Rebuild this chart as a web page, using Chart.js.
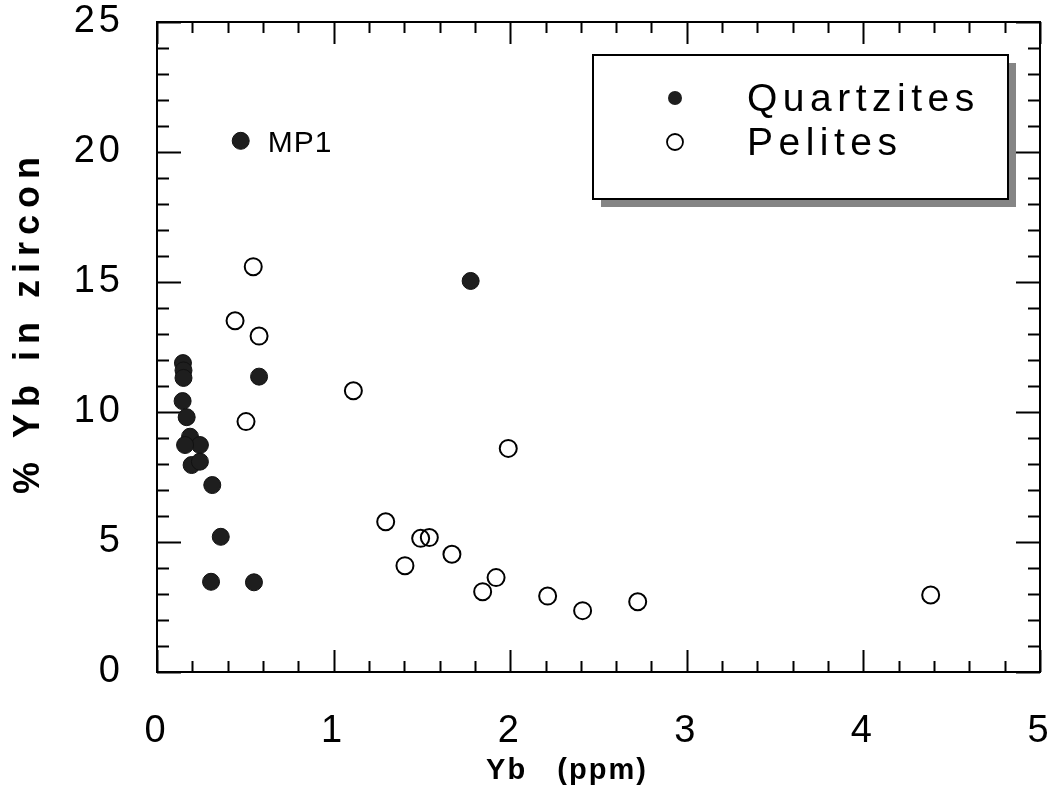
<!DOCTYPE html>
<html>
<head>
<meta charset="utf-8">
<title>Yb in zircon</title>
<script src="https://cdn.jsdelivr.net/npm/chart.js@4.4.1/dist/chart.umd.min.js"></script>
<style>
  html, body { margin: 0; padding: 0; background: #fff; }
  canvas { display: block; }
</style>
</head>
<body>
<canvas id="chart" width="1056" height="801"></canvas>
<script>
// Whole-rock Yb (ppm) against the share of Yb held in zircon
const quartziteYb  = [0.474, 1.776, 0.147, 0.150, 0.150, 0.578, 0.145, 0.168, 0.187, 0.243, 0.159, 0.196, 0.243, 0.313, 0.361, 0.306, 0.549];
const quartziteZrc = [20.43, 15.04, 11.88, 11.60, 11.31, 11.36, 10.42,  9.80,  9.05,  8.73,  8.73,  7.96,  8.09,  7.19,  5.20,  3.47,  3.45];

const peliteYb  = [0.545, 0.442, 0.578, 0.504, 1.112, 1.989, 1.295, 1.493, 1.542, 1.670, 1.404, 1.920, 1.844, 2.212, 2.410, 2.722, 4.381];
const peliteZrc = [15.59, 13.51, 12.92,  9.63, 10.82,  8.60,  5.78,  5.14,  5.17,  4.53,  4.09,  3.63,  3.09,  2.92,  2.36,  2.70,  2.96];

const xTicks = [0, 1, 2, 3, 4, 5];
const yTicks = [0, 5, 10, 15, 20, 25];

const seriesNames = ['Quartzites', 'Pelites'];
const labelledSample = { name: 'MP1', index: 0 };

const FONT = '"Liberation Sans", Arial, Helvetica, sans-serif';

function toPoints(xs, ys) {
  return xs.map((x, i) => ({ x: x, y: ys[i] }));
}

// frame with inward tick marks on all four sides
const frameTicks = {
  id: 'frameTicks',
  beforeDatasetsDraw(chart) {
    const ctx = chart.ctx;
    const a = chart.chartArea;
    const xs = chart.scales.x, ys = chart.scales.y;
    ctx.save();
    ctx.strokeStyle = '#000';
    ctx.lineWidth = 2;
    ctx.strokeRect(a.left, a.top, a.right - a.left, a.bottom - a.top);
    ctx.beginPath();
    for (let i = 0; i <= 25; i++) {
      const v = i / 5;
      const px = Math.round(xs.getPixelForValue(v)) + 0.5;
      const len = (i % 5 === 0) ? 22 : 11;
      ctx.moveTo(px, a.bottom); ctx.lineTo(px, a.bottom - len);
      ctx.moveTo(px, a.top);    ctx.lineTo(px, a.top + len);
    }
    for (let v = 0; v <= 25; v++) {
      const py = Math.round(ys.getPixelForValue(v)) + 0.5;
      const len = (v % 5 === 0) ? 24 : 12;
      ctx.moveTo(a.left, py);  ctx.lineTo(a.left + len, py);
      ctx.moveTo(a.right, py); ctx.lineTo(a.right - len, py);
    }
    ctx.stroke();
    ctx.restore();
  }
};

// axis titles, the MP1 tag and the boxed legend
const annotations = {
  id: 'annotations',
  afterDraw(chart) {
    const ctx = chart.ctx;
    const xs = chart.scales.x, ys = chart.scales.y;
    const qs = chart.data.datasets[0], ps = chart.data.datasets[1];
    ctx.save();
    ctx.fillStyle = '#000';

    // axis titles
    ctx.letterSpacing = '2px';
    ctx.font = 'bold 29px ' + FONT;
    ctx.textAlign = 'center';
    ctx.textBaseline = 'middle';
    ctx.fillText('Yb   (ppm)', 567, 771);

    ctx.save();
    ctx.translate(29, 322);
    ctx.rotate(-Math.PI / 2);
    ctx.letterSpacing = '7px';
    ctx.font = 'bold 36px ' + FONT;
    ctx.fillText('% Yb in zircon', 0, 0);
    ctx.restore();

    // sample tag
    const mx = xs.getPixelForValue(quartziteYb[labelledSample.index]);
    const my = ys.getPixelForValue(quartziteZrc[labelledSample.index]);
    ctx.letterSpacing = '1px';
    ctx.font = '30px ' + FONT;
    ctx.textAlign = 'left';
    ctx.textBaseline = 'alphabetic';
    ctx.fillText(labelledSample.name, mx + 27, my + 11);

    // legend box with drop shadow
    const bx = 593, by = 55, bw = 415, bh = 144, sh = 8;
    ctx.fillStyle = '#858585';
    ctx.fillRect(bx + sh, by + bh, bw, sh);
    ctx.fillRect(bx + bw, by + sh, sh, bh);
    ctx.fillStyle = '#fff';
    ctx.fillRect(bx, by, bw, bh);
    ctx.strokeStyle = '#000';
    ctx.lineWidth = 2;
    ctx.strokeRect(bx, by, bw, bh);

    ctx.beginPath();
    ctx.arc(675, 98, 7, 0, Math.PI * 2);
    ctx.fillStyle = qs.backgroundColor;
    ctx.fill();
    ctx.beginPath();
    ctx.arc(675, 142, 8, 0, Math.PI * 2);
    ctx.fillStyle = '#fff';
    ctx.fill();
    ctx.lineWidth = 1.8;
    ctx.strokeStyle = ps.borderColor;
    ctx.stroke();

    ctx.fillStyle = '#000';
    ctx.letterSpacing = '5.5px';
    ctx.font = '39px ' + FONT;
    ctx.fillText(seriesNames[0], 747, 111);
    ctx.fillText(seriesNames[1], 747, 155);
    ctx.restore();
  }
};

// wider tracking for the tick numbers
const tracking = {
  id: 'tracking',
  beforeDraw(chart) { chart.ctx.letterSpacing = '4px'; }
};

new Chart(document.getElementById('chart'), {
  type: 'scatter',
  data: {
    datasets: [
      {
        label: seriesNames[0],
        data: toPoints(quartziteYb, quartziteZrc),
        pointRadius: 8.5,
        pointHoverRadius: 8.5,
        backgroundColor: '#1e1e1e',
        borderColor: '#111',
        borderWidth: 1
      },
      {
        label: seriesNames[1],
        data: toPoints(peliteYb, peliteZrc),
        pointRadius: 8.5,
        pointHoverRadius: 8.5,
        backgroundColor: 'rgba(255,255,255,0)',
        borderColor: '#000',
        borderWidth: 2
      }
    ]
  },
  options: {
    responsive: false,
    animation: false,
    events: [],
    layout: { padding: { left: 0, top: 22, right: 16, bottom: 0 } },
    plugins: {
      legend: { display: false },
      tooltip: { enabled: false }
    },
    scales: {
      x: {
        type: 'linear',
        min: 0,
        max: 5,
        afterFit(scale) {
          scale.height = 129;
          scale.paddingLeft = 0;
          scale.paddingRight = 0;
        },
        afterBuildTicks(scale) { scale.ticks = xTicks.map(v => ({ value: v })); },
        grid: { display: false, drawTicks: false },
        border: { display: false },
        ticks: {
          color: '#000',
          padding: 37,
          maxRotation: 0,
          font: { family: FONT, size: 38 }
        }
      },
      y: {
        type: 'linear',
        min: 0,
        max: 25,
        afterFit(scale) {
          scale.width = 157;
          scale.paddingTop = 0;
          scale.paddingBottom = 0;
        },
        afterBuildTicks(scale) { scale.ticks = yTicks.map(v => ({ value: v })); },
        grid: { display: false, drawTicks: false },
        border: { display: false },
        ticks: {
          color: '#000',
          padding: 33,
          font: { family: FONT, size: 38 }
        }
      }
    }
  },
  plugins: [tracking, frameTicks, annotations]
});
</script>
</body>
</html>
